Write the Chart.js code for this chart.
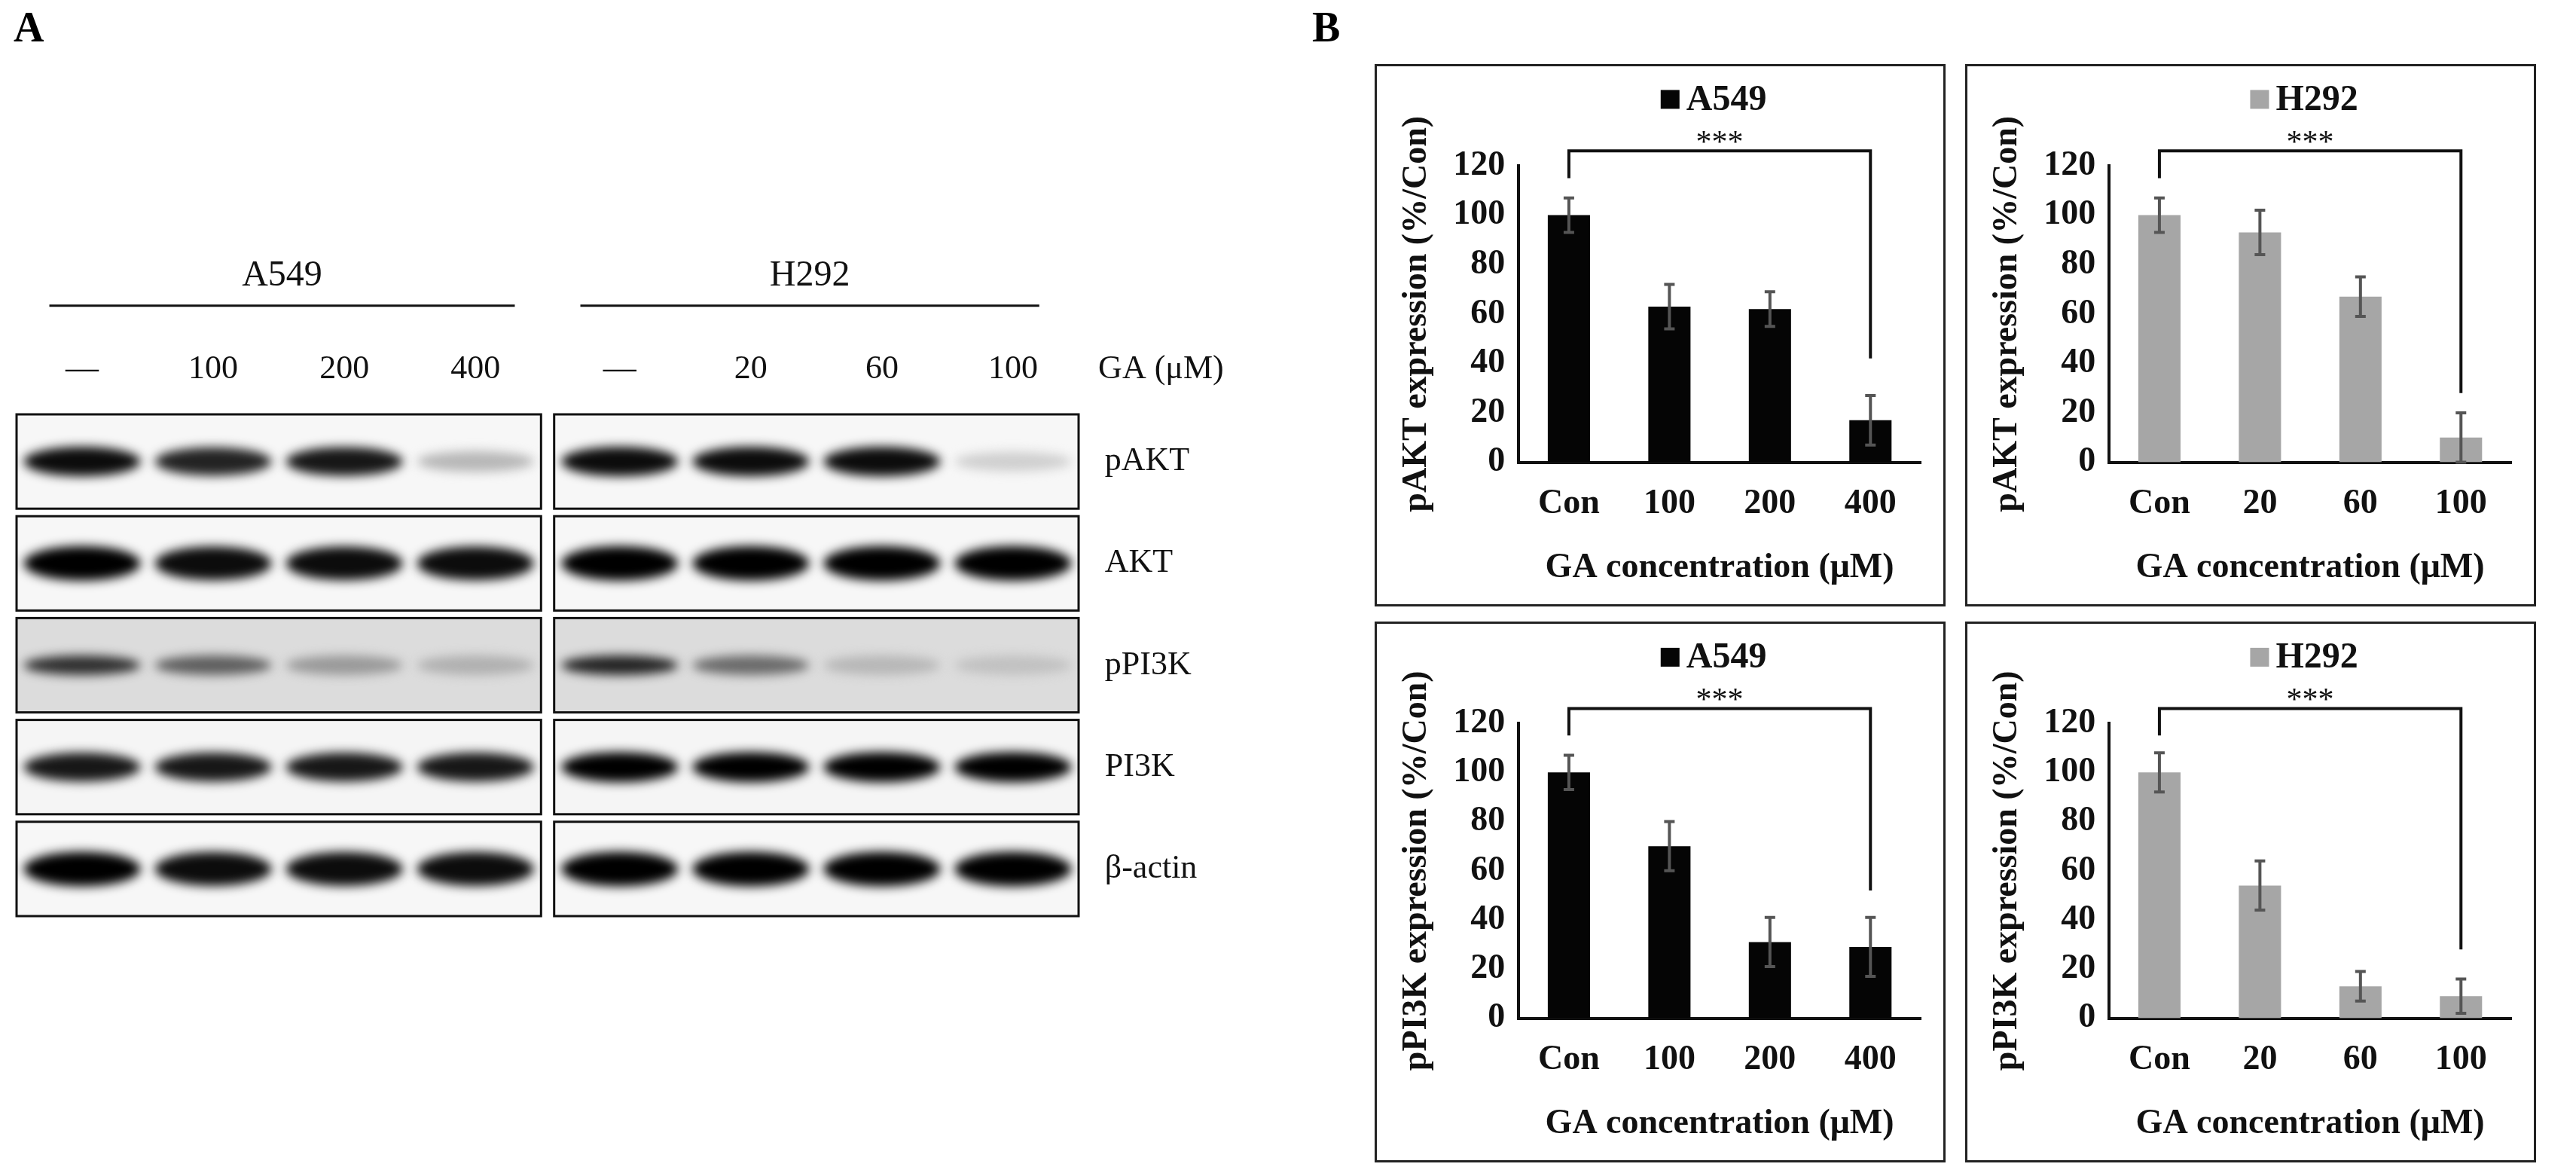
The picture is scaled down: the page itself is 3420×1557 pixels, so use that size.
<!DOCTYPE html>
<html><head><meta charset="utf-8">
<script src="https://cdn.jsdelivr.net/npm/chart.js@4"></script>
<style>
body{margin:0;background:#fff;width:3420px;height:1557px;position:relative;overflow:hidden;font-family:"Liberation Serif",serif}
.box{position:absolute;border:3px solid #222;box-sizing:border-box;background:#fff}
.lbl{position:absolute;font:bold 56px "Liberation Serif";}
canvas{display:block}
</style></head><body>
<div class="lbl" style="left:18px;top:4px">A</div>
<div class="lbl" style="left:1742px;top:4px">B</div>
<canvas id="blot" width="1720" height="1557" style="position:absolute;left:0;top:0"></canvas>
<div class="box" style="left:1825px;top:85px;width:758px;height:720px"><canvas id="c1" width="752" height="714"></canvas></div>
<div class="box" style="left:2609px;top:85px;width:758px;height:720px"><canvas id="c2" width="752" height="714"></canvas></div>
<div class="box" style="left:1825px;top:825px;width:758px;height:718px"><canvas id="c3" width="752" height="712"></canvas></div>
<div class="box" style="left:2609px;top:825px;width:758px;height:718px"><canvas id="c4" width="752" height="712"></canvas></div>
<script>
// ---- Panel A data ----
const blotRows = ["pAKT","AKT","pPI3K","PI3K","β-actin"];
const laneLabelsA549 = ["—","100","200","400"];
const laneLabelsH292 = ["—","20","60","100"];
const intensA549 = [[0.95,0.85,0.9,0.22],[1,0.95,0.95,0.95],[0.8,0.6,0.35,0.25],[0.9,0.9,0.9,0.9],[1,0.95,0.95,0.95]];
const intensH292 = [[0.95,0.95,0.95,0.12],[1,1,1,1],[0.85,0.55,0.22,0.18],[1,1,1,1],[1,1,1,1]];
// ---- Panel B data ----
const catsA549 = ["Con","100","200","400"];
const catsH292 = ["Con","20","60","100"];
const pAKT_A549 = [100,63,62,17], pAKT_A549_err = [7,9,7,10];
const pAKT_H292 = [100,93,67,10], pAKT_H292_err = [7,9,8,10];
const pPI3K_A549 = [100,70,31,29], pPI3K_A549_err = [7,10,10,12];
const pPI3K_H292 = [100,54,13,9], pPI3K_H292_err = [8,10,6,7];
const yTicks = [0,20,40,60,80,100,120];

Chart.defaults.font.family = "Liberation Serif";
Chart.defaults.color = "#111";

// ---- Panel A ----
const blotPlugin = {
  id:'blot',
  afterDraw(ch){
    const ctx=ch.ctx, x=ch.scales.x, y=ch.scales.y;
    const lanePos=[[0,1,2,3],[4.1,5.1,6.1,7.1]];
    const boxes=[[-0.5,3.5],[3.6,7.6]];
    const bgs=['#f7f7f7','#f7f7f7','#dcdcdc','#f5f5f5','#f7f7f7'];
    const sets=[intensA549,intensH292];
    const rowH = Math.abs(y.getPixelForValue(1)-y.getPixelForValue(0));
    ctx.save();
    blotRows.forEach((r,ri)=>{
      const yc=y.getPixelForValue(ri), top=yc-rowH/2+5, h=rowH-10;
      boxes.forEach((b,bi)=>{
        const x0=x.getPixelForValue(b[0]), x1=x.getPixelForValue(b[1]);
        ctx.fillStyle=bgs[ri]; ctx.fillRect(x0,top,x1-x0,h);
        ctx.save(); ctx.beginPath(); ctx.rect(x0,top,x1-x0,h); ctx.clip();
        ctx.filter='blur(7px)';
        sets[bi][ri].forEach((v,li)=>{
          const xc=x.getPixelForValue(lanePos[bi][li]);
          const w=155, bh=ri===2?26:(ri===1||ri===4?46:40)*(0.6+0.4*v);
          const g=Math.round(235*(1-v));
          ctx.fillStyle=`rgb(${g},${g},${g})`;
          ctx.beginPath(); ctx.ellipse(xc,yc,w/2,bh/2,0,0,Math.PI*2); ctx.fill();
        });
        ctx.restore();
        ctx.strokeStyle='#111'; ctx.lineWidth=3; ctx.strokeRect(x0,top,x1-x0,h);
      });
      ctx.fillStyle='#111'; ctx.font='44px "Liberation Serif"'; ctx.textAlign='left'; ctx.textBaseline='middle';
      ctx.fillText(r, x.getPixelForValue(7.8), yc);
    });
    // headers
    ctx.font='48px "Liberation Serif"'; ctx.textAlign='center'; ctx.textBaseline='middle';
    const hy=y.getPixelForValue(-1.82), ly=y.getPixelForValue(-1.53), lby=y.getPixelForValue(-0.9);
    ctx.fillText('A549',(x.getPixelForValue(-0.25)+x.getPixelForValue(3.3))/2,hy);
    ctx.fillText('H292',(x.getPixelForValue(3.8)+x.getPixelForValue(7.3))/2,hy);
    ctx.lineWidth=3; ctx.beginPath();
    ctx.moveTo(x.getPixelForValue(-0.25),ly); ctx.lineTo(x.getPixelForValue(3.3),ly);
    ctx.moveTo(x.getPixelForValue(3.8),ly); ctx.lineTo(x.getPixelForValue(7.3),ly); ctx.stroke();
    ctx.font='44px "Liberation Serif"';
    laneLabelsA549.forEach((l,i)=>ctx.fillText(l,x.getPixelForValue(lanePos[0][i]),lby));
    laneLabelsH292.forEach((l,i)=>ctx.fillText(l,x.getPixelForValue(lanePos[1][i]),lby));
    ctx.textAlign='left'; ctx.fillText('GA (μM)',x.getPixelForValue(7.75),lby);
    ctx.restore();
  }
};
new Chart(document.getElementById('blot'),{
  type:'scatter', data:{datasets:[{data:[]}]},
  options:{responsive:false,animation:false,devicePixelRatio:1,
    layout:{padding:{left:22,right:288,top:545,bottom:336}},
    plugins:{legend:{display:false},tooltip:{enabled:false}},
    scales:{x:{type:'linear',min:-0.5,max:7.6,display:false},
            y:{type:'linear',min:-0.5,max:4.5,reverse:true,display:false}}},
  plugins:[blotPlugin]
});

// ---- Panel B ----
const barPlugin = {
  id:'extras',
  afterDatasetsDraw(ch,args,o){
    const ctx=ch.ctx, x=ch.scales.x, y=ch.scales.y, ds=ch.data.datasets[0];
    ctx.save();
    ctx.strokeStyle='#555'; ctx.lineWidth=4;
    ds.data.forEach((v,i)=>{
      const xc=x.getPixelForValue(i), e=o.err[i];
      const t=y.getPixelForValue(v+e), b=y.getPixelForValue(v-e);
      ctx.beginPath(); ctx.moveTo(xc,t); ctx.lineTo(xc,b);
      ctx.moveTo(xc-7,t); ctx.lineTo(xc+7,t); ctx.moveTo(xc-7,b); ctx.lineTo(xc+7,b); ctx.stroke();
    });
    // bracket
    const x0=x.getPixelForValue(0), x3=x.getPixelForValue(3), by=y.getPixelForValue(126);
    ctx.strokeStyle='#111'; ctx.lineWidth=4; ctx.beginPath();
    ctx.moveTo(x0,y.getPixelForValue(115)); ctx.lineTo(x0,by); ctx.lineTo(x3,by); ctx.lineTo(x3,y.getPixelForValue(o.rightEnd)); ctx.stroke();
    ctx.fillStyle='#111'; ctx.font='42px "Liberation Serif"'; ctx.textAlign='center'; ctx.textBaseline='alphabetic';
    ctx.fillText('***',(x0+x3)/2,y.getPixelForValue(125.5));
    // legend
    ctx.font='bold 48px "Liberation Serif"'; ctx.textBaseline='middle';
    const ly=y.getPixelForValue(147), cx=(ch.chartArea.left+ch.chartArea.right)/2-8;
    const tw=ctx.measureText(ds.label).width;
    const sx=cx-(tw+34)/2;
    ctx.fillStyle=ds.backgroundColor; ctx.fillRect(sx,ly-12,25,25);
    ctx.fillStyle='#111'; ctx.textAlign='left'; ctx.fillText(ds.label,sx+34,ly+2);
    ctx.restore();
  }
};
function makeBar(id,cats,vals,err,label,color,ytitle,rightEnd){
  new Chart(document.getElementById(id),{
    type:'bar',
    data:{labels:cats,datasets:[{label,data:vals,backgroundColor:color,barPercentage:0.42,categoryPercentage:1}]},
    options:{responsive:false,animation:false,devicePixelRatio:1,
      layout:{padding:{top:132,right:30,left:22,bottom:16}},
      plugins:{legend:{display:false},tooltip:{enabled:false},extras:{err,rightEnd}},
      scales:{
        x:{grid:{display:false,drawTicks:false},border:{color:'#111',width:4},
           ticks:{font:{size:46,weight:'bold'},color:'#111',padding:28},
           title:{display:true,text:'GA concentration (μM)',font:{size:46,weight:'bold'},color:'#111',padding:{top:2}}},
        y:{min:0,max:120,afterBuildTicks:s=>{s.ticks=yTicks.map(v=>({value:v}));},
           grid:{display:false,drawTicks:false},border:{color:'#111',width:4},
           ticks:{font:{size:46,weight:'bold'},color:'#111',padding:18},
           title:{display:true,text:ytitle,font:{size:46,weight:'bold'},color:'#111',padding:{bottom:2}}}
      }},
    plugins:[barPlugin]
  });
}
makeBar('c1',catsA549,pAKT_A549,pAKT_A549_err,'A549','#050505','pAKT expression (%/Con)',42);
makeBar('c2',catsH292,pAKT_H292,pAKT_H292_err,'H292','#a6a6a6','pAKT expression (%/Con)',28);
makeBar('c3',catsA549,pPI3K_A549,pPI3K_A549_err,'A549','#050505','pPI3K expression (%/Con)',52);
makeBar('c4',catsH292,pPI3K_H292,pPI3K_H292_err,'H292','#a6a6a6','pPI3K expression (%/Con)',28);
</script></body></html>
